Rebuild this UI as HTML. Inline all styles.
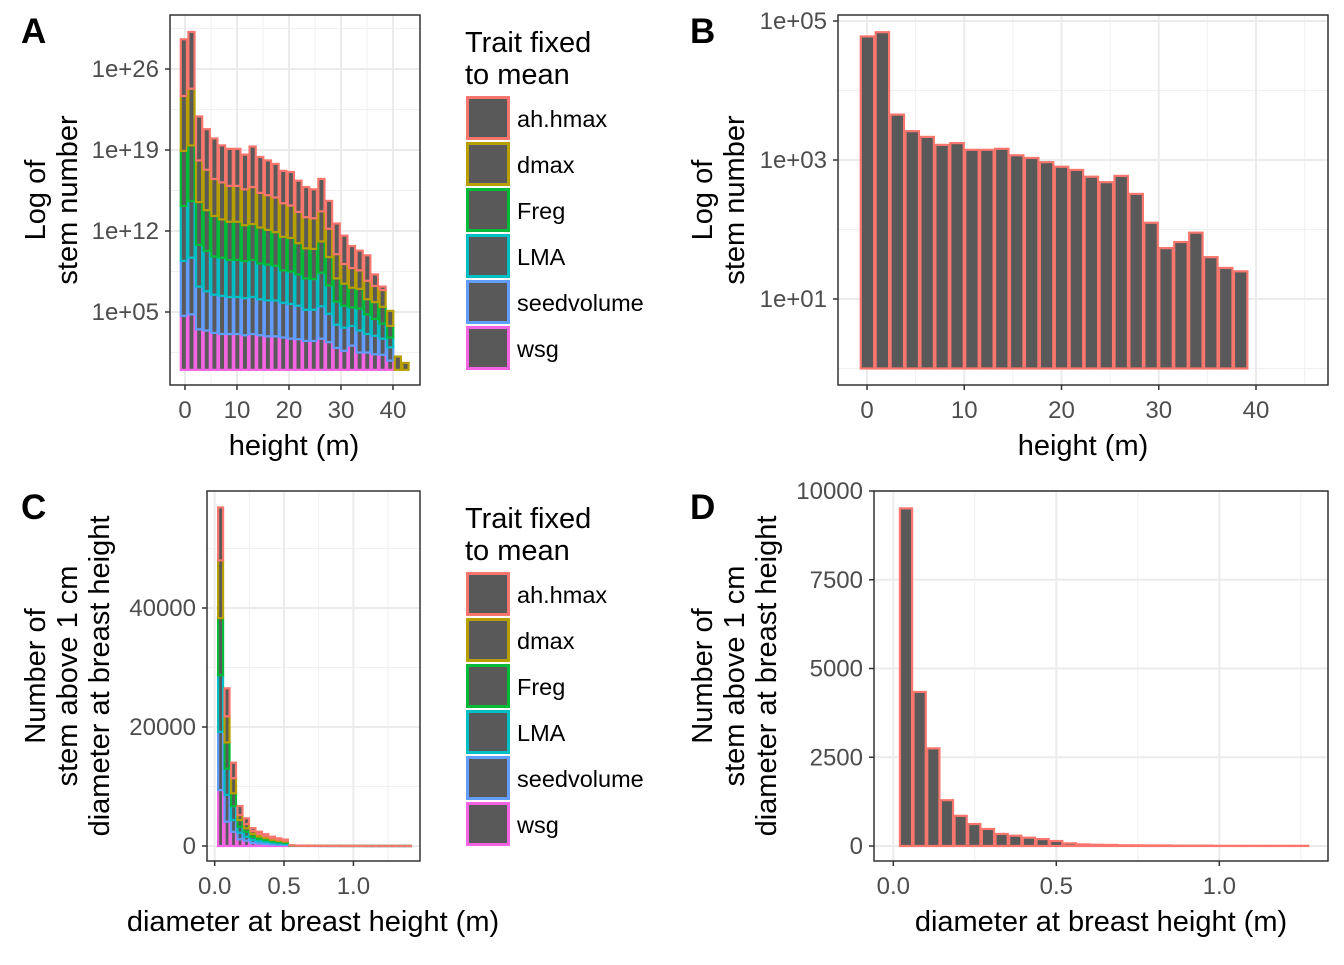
<!DOCTYPE html>
<html><head><meta charset="utf-8"><style>
body{margin:0;background:#fff}
svg text{font-family:"Liberation Sans",sans-serif}
</style></head><body>
<svg id="fig" width="1344" height="960" xmlns="http://www.w3.org/2000/svg"></svg>
<script>
const seriesNames=["ah.hmax","dmax","Freg","LMA","seedvolume","wsg"];
const seriesColors=["#F8766D","#B79F00","#00BA38","#00BFC4","#619CFF","#F564E3"];
// Panel A: log10 stem counts per height bin per series (stacked in log space)
const aWsg=[4.67,4.8,3.5,3.4,3.2,3.1,3.1,3.1,3.0,3.1,3.0,2.9,2.9,2.8,2.7,2.65,2.5,2.5,2.7,2.4,1.9,1.65,2.1,1.5,1.5,1.35,1.3,0.8,0,0];
const aSeed=[4.75,4.9,3.7,3.4,3.3,3.3,3.2,3.2,3.2,3.2,3.1,3.1,3.1,3.0,3.0,2.9,2.7,2.7,2.8,2.45,2.0,2.0,1.7,1.9,1.6,1.6,1.4,1.15,0,0];
const aLMA=[4.75,4.9,3.6,3.5,3.3,3.3,3.2,3.2,3.2,3.2,3.1,3.1,3.0,2.8,2.8,2.7,2.7,2.65,2.9,2.45,2.0,1.9,1.6,1.9,1.7,1.45,1.3,0.85,0,0];
const aFreg=[4.75,4.8,3.7,3.5,3.5,3.3,3.3,3.3,3.1,3.1,3.1,3.0,2.9,2.9,2.9,2.7,2.6,2.6,2.7,2.45,2.0,1.9,1.7,1.7,1.3,1.45,1.45,1.0,0,0];
const aDmax=[4.75,4.9,3.6,3.5,3.2,3.2,3.1,3.1,3.1,3.2,3.0,3.0,3.0,2.9,2.8,2.7,2.7,2.65,2.6,2.45,2.1,1.7,1.7,1.6,1.6,1.4,1.45,1.3,1.15,0.6];
const aHmax=[4.9,4.9,3.8,3.5,3.5,3.2,3.2,3.2,3.0,3.5,3.1,3.0,2.9,2.8,2.9,2.7,2.6,2.5,2.8,2.4,2.65,2.45,1.9,1.7,2.2,1.0,0.3,0,0,0];
const aTicks=[5,12,19,26];
const aTickLabels=["1e+05","1e+12","1e+19","1e+26"];
const hTicks=[0,10,20,30,40];
// Panel B: stem counts per height bin (ah.hmax)
const bCounts=[60000,69000,4500,2600,2150,1650,1750,1400,1400,1450,1170,1070,930,800,720,575,480,590,325,125,54,66,90,40,28,25,0,0,0,1];
const bTicks=[1,3,5];
const bTickLabels=["1e+01","1e+03","1e+05"];
// Panel C: stems per dbh bin per series (stacked)
const cWsg=[9400,4100,2400,1130,900,500,400,330,260,215,180,20,12,8,6,5,4,3,3,2,2,2,2,1,1,1,1,1,1,1];
const cSeed=[9800,4500,1970,1110,670,500,400,330,260,215,180,20,12,8,6,5,4,3,3,2,2,2,2,1,1,1,1,1,1,1];
const cLMA=[9500,4400,2330,1000,830,500,400,330,260,215,180,20,12,8,6,5,4,3,3,2,2,2,2,1,1,1,1,1,1,1];
const cFreg=[9600,4400,2160,1130,570,500,400,330,260,215,180,20,12,8,6,5,4,3,3,2,2,2,2,1,1,1,1,1,1,1];
const cDmax=[9700,4400,2540,830,730,500,400,330,260,215,180,20,12,8,6,5,4,3,3,2,2,2,2,1,1,1,1,1,1,1];
const cHmax=[8900,4700,2600,1520,950,500,400,330,260,215,180,20,12,8,6,5,4,3,3,2,2,2,2,1,1,1,1,1,1,1];
const cTicks=[0,20000,40000];
const dTicks=[0,2500,5000,7500,10000];
const dbhTicks=[0,0.5,1.0];
const dbhTickLabels=["0.0","0.5","1.0"];
// Panel D: stems per dbh bin (ah.hmax)
const dCounts=[9510,4340,2750,1290,850,620,480,340,290,235,195,140,75,45,35,30,20,20,15,15,10,10,10,5,5,5,5,5,5,5];

const svg=document.getElementById('fig');
const NS="http://www.w3.org/2000/svg";
function mk(tag,attrs,parent){const e=document.createElementNS(NS,tag);for(const k in attrs)e.setAttribute(k,attrs[k]);(parent||svg).appendChild(e);return e;}
function txt(s,attrs,parent){const e=mk('text',attrs,parent);e.textContent=s;return e;}

function panel(name,x0,y0,x1,y1){
  const g=mk('g',{});
  
  
  mk('rect',{x:x0,y:y0,width:x1-x0,height:y1-y0,fill:'#fff'},g);
  return g;
}
function grid(g,x0,y0,x1,y1,xs,ys,xmin,ymin){
  const gg=mk('g',{},g);
  
  
  (xmin||[]).forEach(x=>mk('line',{x1:x,x2:x,y1:y0,y2:y1,stroke:'#f0f0f0','stroke-width':1},gg));
  (ymin||[]).forEach(y=>mk('line',{x1:x0,x2:x1,y1:y,y2:y,stroke:'#f0f0f0','stroke-width':1},gg));
  xs.forEach(x=>mk('line',{x1:x,x2:x,y1:y0,y2:y1,stroke:'#ebebeb','stroke-width':2},gg));
  ys.forEach(y=>mk('line',{x1:x0,x2:x1,y1:y,y2:y,stroke:'#ebebeb','stroke-width':2},gg));
}
function frame(g,x0,y0,x1,y1){
  const r=mk('rect',{x:x0,y:y0,width:x1-x0,height:y1-y0,fill:'none',stroke:'#333','stroke-width':1.5},g);
  
  
}
function yAxis(g,x0,ys,labels){
  ys.forEach((y,i)=>{
    mk('line',{x1:x0-5,x2:x0,y1:y,y2:y,stroke:'#333','stroke-width':1.5},g);
    const t=txt(labels[i],{x:x0-11,y:y+8,'text-anchor':'end','font-size':24,fill:'#4d4d4d'},g);
    
    
  });
}
function xAxis(g,y1,xs,labels){
  xs.forEach((x,i)=>{
    mk('line',{x1:x,x2:x,y1:y1,y2:y1+5,stroke:'#333','stroke-width':1.5},g);
    const t=txt(labels[i],{x:x,y:y1+33,'text-anchor':'middle','font-size':24,fill:'#4d4d4d'},g);
    
    
  });
}
function title(g,s,x,y,rot,nm){
  const t=txt(s,{x:x,y:y,'text-anchor':'middle','font-size':29,fill:'#000',transform:rot?`rotate(-90 ${x} ${y})`:''},g);
  
  
}
function letter(s,x,y){
  const t=txt(s,{x:x,y:y,'font-size':35,'font-weight':'bold',fill:'#000'});
  
  
}
function bar(g,x,w,yTop,yBot,color,nm){
  const r=mk('rect',{x:x+0.75,y:yTop,width:Math.max(w-1.5,0),height:Math.max(yBot-yTop,0),fill:'#595959',stroke:color,'stroke-width':2.2},g);
  
  
}
function legend(y0){
  const g=mk('g',{});
  
  
  const t1=txt('Trait fixed',{x:465,y:y0+52,'font-size':29,fill:'#000'},g);
  
  
  txt('to mean',{x:465,y:y0+84,'font-size':29,fill:'#000'},g);
  seriesNames.forEach((n,i)=>{
    const yy=y0+96+i*46;
    const e=mk('g',{},g);
    
    
    mk('rect',{x:467.5,y:yy+1.5,width:41,height:41,fill:'#595959',stroke:seriesColors[i],'stroke-width':3},e);
    txt(n,{x:517,y:yy+31,'font-size':23.5,fill:'#000'},e);
  });
}

// ---------- Panel A ----------
(function(){
  const X0=170,Y0=15,X1=420,Y1=385;
  const xs=m=>185+m*5.2;
  const ys=v=>312-(v-5)*11.571;
  const g=panel('panel-a',X0,Y0,X1,Y1);
  grid(g,X0,Y0,X1,Y1,hTicks.map(xs),aTicks.map(ys),[5,15,25,35].map(xs),[1.5,8.5,15.5,22.5,29.5].map(ys).filter(y=>y>Y0&&y<Y1));
  const stack=[aWsg,aSeed,aLMA,aFreg,aDmax,aHmax];
  const cols=[5,4,3,2,1,0];
  const bw=1.47,b0=-0.96;
  const bars=mk('g',{},g);
  
  
  for(let i=0;i<aWsg.length;i++){
    let cum=0;
    const xl=xs(b0+i*bw),w=bw*5.2;
    for(let s=0;s<stack.length;s++){
      const v=stack[s][i];
      if(v<=0)continue;
      bar(bars,xl,w,ys(cum+v),ys(cum),seriesColors[cols[s]],'bar-'+seriesNames[cols[s]]);
      cum+=v;
    }
  }
  frame(g,X0,Y0,X1,Y1);
  yAxis(g,X0,aTicks.map(ys),aTickLabels);
  xAxis(g,Y1,hTicks.map(xs),hTicks.map(String));
  title(g,'height (m)',294,455,false,'x-axis-title');
  title(g,'Log of',45,200,true,'y-axis-title');
  title(g,'stem number',77,200,true,'y-axis-title-line2');
})();
legend(0);

// ---------- Panel B ----------
(function(){
  const X0=838,Y0=15,X1=1328,Y1=385;
  const xs=m=>867+m*9.725;
  const ys=v=>299-(v-1)*69.5;
  const g=panel('panel-b',X0,Y0,X1,Y1);
  grid(g,X0,Y0,X1,Y1,hTicks.map(xs),bTicks.map(ys),[5,15,25,35,45].map(xs),[0,2,4].map(ys));
  const bw=1.535,b0=-0.72;
  const bars=mk('g',{},g);
  
  
  bCounts.forEach((c,i)=>{
    if(c<=0)return;
    bar(bars,xs(b0+i*bw),bw*9.725,ys(Math.log10(c)),ys(0),seriesColors[0],'bar');
  });
  frame(g,X0,Y0,X1,Y1);
  yAxis(g,X0,bTicks.map(ys),bTickLabels);
  xAxis(g,Y1,hTicks.map(xs),hTicks.map(String));
  title(g,'height (m)',1083,455,false,'x-axis-title');
  title(g,'Log of',712,200,true,'y-axis-title');
  title(g,'stem number',744,200,true,'y-axis-title-line2');
})();

// ---------- Panel C ----------
(function(){
  const X0=207,Y0=491,X1=420,Y1=861;
  const xs=m=>214.7+m*138.7;
  const ys=v=>846-v*0.00595;
  const g=panel('panel-c',X0,Y0,X1,Y1);
  grid(g,X0,Y0,X1,Y1,dbhTicks.map(xs),cTicks.map(ys),[0.25,0.75,1.25].map(xs),[10000,30000,50000].map(ys));
  const stack=[cWsg,cSeed,cLMA,cFreg,cDmax,cHmax];
  const cols=[5,4,3,2,1,0];
  const bw=0.0467,b0=0.019;
  const bars=mk('g',{},g);
  
  
  for(let i=0;i<cWsg.length;i++){
    let cum=0;
    const xl=xs(b0+i*bw),w=bw*138.7;
    for(let s=0;s<stack.length;s++){
      const v=stack[s][i];
      bar(bars,xl,w,ys(cum+v),ys(cum),seriesColors[cols[s]],'bar-'+seriesNames[cols[s]]);
      cum+=v;
    }
  }
  frame(g,X0,Y0,X1,Y1);
  yAxis(g,X0,cTicks.map(ys),cTicks.map(String));
  xAxis(g,Y1,dbhTicks.map(xs),dbhTickLabels);
  title(g,'diameter at breast height (m)',313,931,false,'x-axis-title');
  title(g,'Number of',45,676,true,'y-axis-title');
  title(g,'stem above 1 cm',77,676,true,'y-axis-title-line2');
  title(g,'diameter at breast height',109,676,true,'y-axis-title-line3');
})();
legend(476);

// ---------- Panel D ----------
(function(){
  const X0=874,Y0=491,X1=1328,Y1=861;
  const xs=m=>893.3+m*326;
  const ys=v=>846-v*0.0355;
  const g=panel('panel-d',X0,Y0,X1,Y1);
  grid(g,X0,Y0,X1,Y1,dbhTicks.map(xs),dTicks.map(ys),[0.25,0.75,1.25].map(xs),[]);
  const bw=0.0419,b0=0.018;
  const bars=mk('g',{},g);
  
  
  dCounts.forEach((c,i)=>{
    bar(bars,xs(b0+i*bw),bw*326,ys(c),ys(0),seriesColors[0],'bar');
  });
  frame(g,X0,Y0,X1,Y1);
  yAxis(g,X0,dTicks.map(ys),dTicks.map(String));
  xAxis(g,Y1,dbhTicks.map(xs),dbhTickLabels);
  title(g,'diameter at breast height (m)',1101,931,false,'x-axis-title');
  title(g,'Number of',712,676,true,'y-axis-title');
  title(g,'stem above 1 cm',744,676,true,'y-axis-title-line2');
  title(g,'diameter at breast height',776,676,true,'y-axis-title-line3');
})();

letter('A',21,43);letter('B',690,43);letter('C',21,519);letter('D',690,519);
</script>
</body></html>
